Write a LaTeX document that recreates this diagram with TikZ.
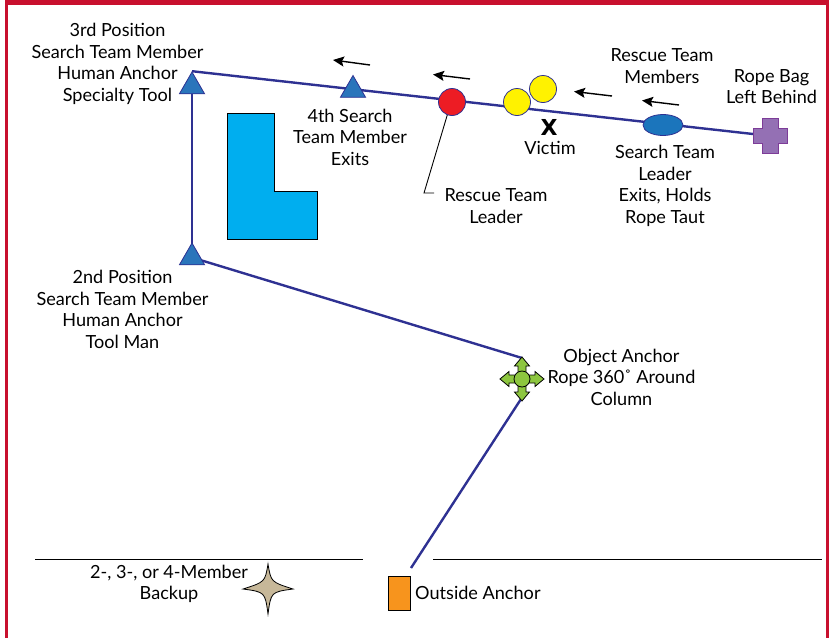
\documentclass[tikz,border=0pt]{standalone}
\usepackage{fontspec}
\setmainfont{Lato}
\newfontfamily\heavyfont{DejaVu Sans}
\usetikzlibrary{shapes.geometric,arrows.meta,backgrounds}
\definecolor{frame}{HTML}{C8102E}
\definecolor{rope}{HTML}{2E3192}
\definecolor{tri}{HTML}{2A75BB}
\definecolor{redc}{HTML}{ED1C24}
\definecolor{yel}{HTML}{FFF200}
\definecolor{ell}{HTML}{1B75BC}
\definecolor{purp}{HTML}{9470B4}
\definecolor{purpd}{HTML}{7D3C98}
\definecolor{cyanL}{HTML}{00AEEF}
\definecolor{grn}{HTML}{8DC63F}
\definecolor{org}{HTML}{F7941D}
\definecolor{tan}{HTML}{C7B899}
\begin{document}
\begin{tikzpicture}[x=1pt,y=-1pt,
  lbl/.style={align=center,inner sep=0pt,font=\fontsize{18.1}{21.5}\selectfont},
  ropeline/.style={draw=rope,line width=2.4pt},
  person/.style={regular polygon,regular polygon sides=3,minimum size=29pt,inner sep=0pt,fill=tri,draw=rope,line width=0.8pt},
  disc/.style={circle,minimum size=27pt,inner sep=0pt,draw=rope,line width=0.8pt},
  move/.style={-{Stealth[length=11pt,width=10pt,inset=2pt]},line width=1.4pt,black}]
\useasboundingbox (0,0) rectangle (833,638);
% frame
\fill[frame] (5,0) rectangle (829,5);
\draw[frame,line width=2.5pt] (6.5,0) -- (6.5,638);
\draw[frame,line width=2.5pt] (827.5,0) -- (827.5,638);

% nodes
\node[person] (t3) at (192,86.5) {};
\node[person] (t2) at (192,257.5) {};
\node[person] (t4) at (353,90) {};
\node[disc,fill=redc] (rl) at (452,102) {};
\node[disc,fill=yel] (y1) at (517,102) {};
\node[disc,fill=yel] (y2) at (543,89) {};
\node[ellipse,minimum width=40pt,minimum height=21pt,inner sep=0pt,fill=ell,draw=rope,line width=0.8pt] (stl) at (663,125) {};
\coordinate (bag) at (770,135.5);
\coordinate (obj) at (522,379);
\node[rectangle,minimum width=22pt,minimum height=34pt,inner sep=0pt,fill=org,draw=black,line width=0.8pt] (out) at (399,593) {};

% bag (cross)
\fill[purp,draw=purpd,line width=0.8pt] (bag) ++(-8,-17.5) -- ++(16,0) -- ++(0,10) -- ++(9,0) -- ++(0,15) -- ++(-9,0) -- ++(0,10) -- ++(-16,0) -- ++(0,-10) -- ++(-9,0) -- ++(0,-15) -- ++(9,0) -- cycle;
\coordinate (bagw) at (753,134);

% object anchor
\begin{scope}[shift={(obj)}]
\foreach \r in {0,90,180,270}{
  \filldraw[fill=grn,draw=black,line width=0.8pt,rotate=\r] (-4,-6) -- (-4,-13) -- (-7.5,-13) -- (0,-22) -- (7.5,-13) -- (4,-13) -- (4,-6) -- cycle;
}
\end{scope}
\node[circle,minimum size=16pt,inner sep=0pt,fill=grn,draw=black,line width=0.8pt] (objc) at (obj) {};
\coordinate (objtop) at (522,358);
\coordinate (objbot) at (521,399);
\coordinate (outtop) at (411,568);

% ropes
\begin{scope}[on background layer]
\draw[ropeline] (t3.corner 1) -- (bagw);
\draw[ropeline] (t3.center) -- (t2.center);
\draw[ropeline] (t2.center) -- (objtop);
\draw[ropeline] (objbot) -- (outtop);
\end{scope}

% L-shaped column
\filldraw[fill=cyanL,draw=black,line width=0.8pt] (227,113) -- (274,113) -- (274,191) -- (317,191) -- (317,239) -- (227,239) -- cycle;

% backup star
\filldraw[fill=tan,draw=black,line width=0.8pt] (268,564) .. controls (271,582) .. (293,589) .. controls (271,592) .. (268,614) .. controls (265,592) .. (243,589) .. controls (265,582) .. (268,564) -- cycle;

% ground lines
\coordinate (gl1) at (35,559); \coordinate (gl2) at (363,559);
\coordinate (gr1) at (433,559); \coordinate (gr2) at (822,559);
\draw[line width=0.9pt] (gl1) -- (gl2);
\draw[line width=0.9pt] (gr1) -- (gr2);

% movement arrows
\coordinate (a1s) at (370,65); \coordinate (a1e) at (333,60);
\coordinate (a2s) at (470,79); \coordinate (a2e) at (433,74.5);
\coordinate (a3s) at (612,96); \coordinate (a3e) at (574,91.5);
\coordinate (a4s) at (679,105); \coordinate (a4e) at (642,100.5);
\draw[move] (a1s) -- (a1e);
\draw[move] (a2s) -- (a2e);
\draw[move] (a3s) -- (a3e);
\draw[move] (a4s) -- (a4e);

% pointer to rescue team leader
\coordinate (rlk) at (424,193); \coordinate (rlt) at (434,193);
\draw[line width=0.9pt] (rl.250) -- (rlk) -- (rlt);

% labels
\node[lbl] (l3) at (117.5,64) {3rd Position\\Search Team Member\\Human Anchor\\Specialty Tool};
\node[lbl] (l4) at (350,137) {4th Search\\Team Member\\Exits};
\node[lbl] (lrm) at (662,66) {Rescue Team\\Members};
\node[lbl] (lbag) at (771.5,86.5) {Rope Bag\\Left Behind};
\node[lbl] (lstl) at (665,186) {Search Team\\Leader\\Exits, Holds\\Rope Taut};
\node[lbl,font=\heavyfont\bfseries\fontsize{22}{24}\selectfont] (lx) at (549,127) {X};
\node[lbl] (lv) at (550,148) {Victim};
\node[lbl] (lrl) at (496,206) {Rescue Team\\Leader};
\node[lbl] (l2) at (122.5,309.5) {2nd Position\\Search Team Member\\Human Anchor\\Tool Man};
\node[lbl] (lobj) at (621.5,377) {Object Anchor\\Rope 360˚ Around\\Column};
\node[lbl] (lbk) at (169,584) {2-, 3-, or 4-Member\\Backup};
\node[lbl,anchor=west] (lout) at (415,593) {Outside Anchor};
\end{tikzpicture}
\end{document}
